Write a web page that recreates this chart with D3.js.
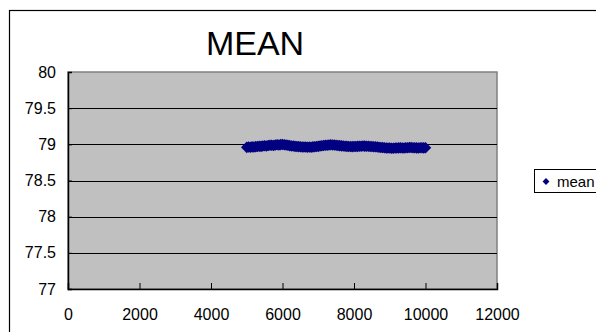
<!DOCTYPE html>
<html>
<head>
<meta charset="utf-8">
<script src="https://cdn.jsdelivr.net/npm/d3@7"></script>
<style>
  body { margin: 0; background: #fff; }
  svg text { font-family: "Liberation Sans", Arial, sans-serif; fill: #000; }
</style>
</head>
<body>
<svg id="chart" width="596" height="332"></svg>
<script>
// x positions of the samples
let xs = d3.range(5000, 10001, 50);
// running mean
let means = [
  78.958, 78.962, 78.960, 78.965, 78.964, 78.968, 78.970, 78.974, 78.972, 78.978,
  78.980, 78.978, 78.984, 78.986, 78.988, 78.985, 78.992, 78.994, 78.990, 78.996,
  78.998, 78.995, 78.990, 78.986, 78.982, 78.978, 78.976, 78.972, 78.970, 78.968,
  78.966, 78.964, 78.962, 78.964, 78.960, 78.962, 78.961, 78.965, 78.966, 78.970,
  78.972, 78.976, 78.980, 78.983, 78.986, 78.988, 78.990, 78.993, 78.992, 78.990,
  78.988, 78.985, 78.982, 78.979, 78.976, 78.974, 78.972, 78.970, 78.970, 78.968,
  78.970, 78.971, 78.972, 78.974, 78.974, 78.976, 78.975, 78.973, 78.973, 78.970,
  78.970, 78.967, 78.966, 78.962, 78.960, 78.957, 78.955, 78.952, 78.950, 78.949,
  78.948, 78.946, 78.947, 78.948, 78.950, 78.951, 78.952, 78.950, 78.950, 78.953,
  78.954, 78.955, 78.956, 78.954, 78.952, 78.951, 78.950, 78.952, 78.953, 78.951,
  78.952
];
let xTicks = [0, 2000, 4000, 6000, 8000, 10000, 12000];
let yTicks = [77, 77.5, 78, 78.5, 79, 79.5, 80];
let seriesName = "mean";
let title = "MEAN";

let svg = d3.select("#chart");
let plotLeft = 68, plotRight = 497, plotTop = 72, plotBottom = 289;

let x = d3.scaleLinear().domain([0, 12000]).range([plotLeft, plotRight]);
let y = d3.scaleLinear().domain([77, 80]).range([plotBottom, plotTop]);

// outer chart border (runs off the right and bottom edges)
svg.append("rect")
  .attr("x", 9.5).attr("y", 10.5)
  .attr("width", 620).attr("height", 360)
  .attr("fill", "#fff").attr("stroke", "#000").attr("stroke-width", 1.2);

// title
svg.append("text")
  .attr("x", 255).attr("y", 55)
  .attr("text-anchor", "middle")
  .style("font-size", "34px")
  .text(title);

// plot area
svg.append("rect")
  .attr("x", plotLeft).attr("y", plotTop)
  .attr("width", plotRight - plotLeft).attr("height", plotBottom - plotTop)
  .attr("fill", "#c0c0c0").attr("stroke", "#808080").attr("stroke-width", 1.5);

// gridlines
svg.append("g")
  .selectAll("line")
  .data(yTicks.filter(d => d > 77 && d < 80))
  .join("line")
  .attr("x1", plotLeft).attr("x2", plotRight)
  .attr("y1", d => Math.round(y(d)) + 0.5).attr("y2", d => Math.round(y(d)) + 0.5)
  .attr("stroke", "#000").attr("stroke-width", 1);

// y axis
let yAxis = svg.append("g")
  .attr("transform", "translate(" + plotLeft + ",0)")
  .call(d3.axisRight(y).tickValues(yTicks).tickSize(4).tickFormat(d3.format("")));
yAxis.select(".domain").attr("stroke", "#000").attr("stroke-width", 1.5);
yAxis.selectAll("text")
  .attr("x", -12).attr("text-anchor", "end")
  .style("font-size", "16px");

// x axis
let xAxis = svg.append("g")
  .attr("transform", "translate(0," + plotBottom + ")")
  .call(d3.axisTop(x).tickValues(xTicks).tickSize(6).tickFormat(d3.format("")));
xAxis.select(".domain").attr("stroke", "#000").attr("stroke-width", 1.5);
xAxis.selectAll("line").attr("stroke", "#000");
xAxis.selectAll("text")
  .attr("y", 31).attr("dy", 0)
  .style("font-size", "16px");

// series markers
let diamond = d3.symbol().type(d3.symbolDiamond2).size(85);
svg.append("g")
  .selectAll("path")
  .data(xs.map((d, i) => ({x: d, y: means[i]})))
  .join("path")
  .attr("d", diamond)
  .attr("transform", d => "translate(" + x(d.x) + "," + y(d.y) + ")")
  .attr("fill", "#000080");

// legend
let legend = svg.append("g").attr("transform", "translate(534,169)");
legend.append("rect")
  .attr("x", 0.5).attr("y", 0.5)
  .attr("width", 80).attr("height", 23)
  .attr("fill", "#fff").attr("stroke", "#000");
legend.append("path")
  .attr("d", d3.symbol().type(d3.symbolDiamond2).size(30))
  .attr("transform", "translate(12,12.5)")
  .attr("fill", "#000080");
legend.append("text")
  .attr("x", 23).attr("y", 18)
  .style("font-size", "15px")
  .text(seriesName);
</script>
</body>
</html>
